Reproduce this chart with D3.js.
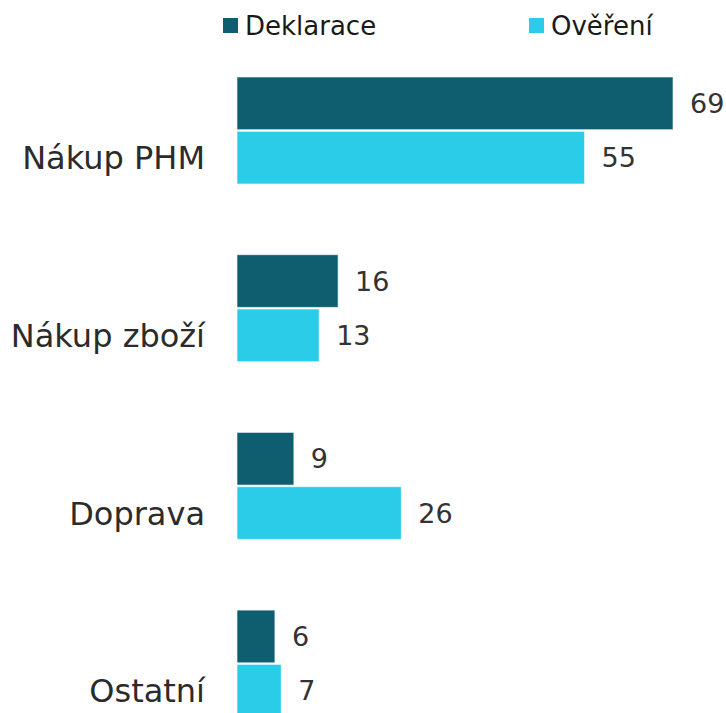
<!doctype html>
<html lang="cs">
<head>
<meta charset="utf-8">
<script src="https://d3js.org/d3.v7.min.js"></script>
<style>
  body { margin: 0; background: #fff; }
  svg text { font-family: "DejaVu Sans", Verdana, sans-serif; }
</style>
</head>
<body>
<svg id="chart" width="726" height="713"></svg>
<script>
  // data
  var categories = ["Nákup PHM", "Nákup zboží", "Doprava", "Ostatní"];
  var seriesNames = ["Deklarace", "Ověření"];
  var deklarace = [69, 16, 9, 6];
  var overeni = [55, 13, 26, 7];
  var colors = ["#0e5e6f", "#2bcce8"];

  var rows = categories.map(function(c, i){
    return { cat: c, values: [deklarace[i], overeni[i]] };
  });

  var svg = d3.select("#chart");

  var x = d3.scaleLinear()
    .domain([0, 69])
    .range([237, 673]);

  var y0 = d3.scaleBand()
    .domain(categories)
    .range([77, 77 + 4 * 177.7]);

  var y1 = d3.scaleBand()
    .domain(seriesNames)
    .range([0, 107])
    .paddingInner(0.03);

  var groups = svg.selectAll("g.grp")
    .data(rows)
    .enter()
    .append("g")
    .attr("class", "grp")
    .attr("transform", function(d){ return "translate(0," + y0(d.cat) + ")"; });

  groups.selectAll("rect")
    .data(function(d){ return d.values.map(function(v, j){ return { s: seriesNames[j], v: v, j: j }; }); })
    .enter()
    .append("rect")
    .attr("x", x(0))
    .attr("y", function(d){ return y1(d.s); })
    .attr("width", function(d){ return x(d.v) - x(0); })
    .attr("height", y1.bandwidth())
    .attr("fill", function(d){ return colors[d.j]; })
    .attr("stroke", "#ffffff")
    .attr("stroke-opacity", 0.6)
    .attr("stroke-width", 1);

  // value labels
  groups.selectAll("text.val")
    .data(function(d){ return d.values.map(function(v, j){ return { s: seriesNames[j], v: v }; }); })
    .enter()
    .append("text")
    .attr("class", "val")
    .attr("x", function(d){ return x(d.v) + 17; })
    .attr("y", function(d){ return y1(d.s) + y1.bandwidth() / 2; })
    .attr("dy", "0.36em")
    .attr("font-size", 27)
    .attr("fill", "#333333")
    .text(function(d){ return d.v; });

  // category labels, level with the second bar
  groups.append("text")
    .attr("x", 205)
    .attr("y", y1("Ověření") + y1.bandwidth() / 2)
    .attr("dy", "0.36em")
    .attr("text-anchor", "end")
    .attr("font-size", 32)
    .attr("fill", "#2b2b2b")
    .text(function(d){ return d.cat; });

  // legend
  var legendX = [223, 529];
  var leg = svg.selectAll("g.leg")
    .data(seriesNames)
    .enter()
    .append("g")
    .attr("class", "leg")
    .attr("transform", function(d, i){ return "translate(" + legendX[i] + ",0)"; });

  leg.append("rect")
    .attr("x", 0)
    .attr("y", 18)
    .attr("width", 15)
    .attr("height", 15)
    .attr("fill", function(d, i){ return colors[i]; });

  leg.append("text")
    .attr("x", 22)
    .attr("y", 35)
    .attr("font-size", 26)
    .attr("fill", "#1a1a1a")
    .text(function(d){ return d; });
</script>
</body>
</html>
